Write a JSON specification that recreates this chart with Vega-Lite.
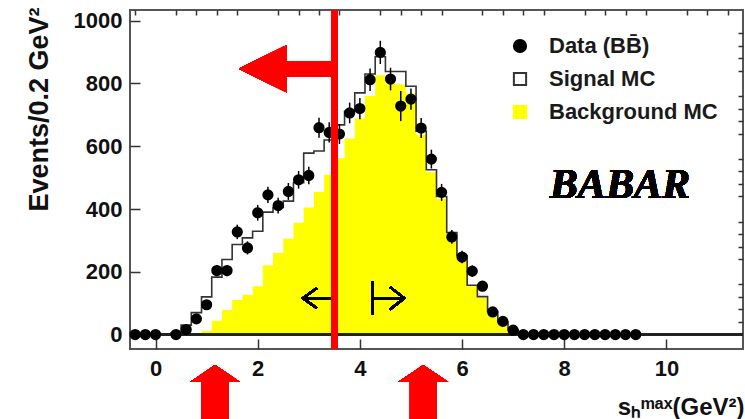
{
  "$schema": "https://vega.github.io/schema/vega-lite/v6.json",
  "width": 613,
  "height": 339,
  "autosize": {"type": "none"},
  "padding": {"left": 130, "top": 10, "right": 2, "bottom": 70},
  "background": "white",
  "config": {
    "view": {"stroke": "#555555", "strokeWidth": 2},
    "font": "Liberation Sans"
  },
  "resolve": {"axis": {"x": "independent", "y": "independent"}},
  "data": {
    "values": [
      {"c": -0.4, "sig": 0, "bkg": 0, "data": 0},
      {"c": -0.2, "sig": 0, "bkg": 0, "data": 0},
      {"c": 0.0, "sig": 0, "bkg": 0, "data": 0},
      {"c": 0.2, "sig": 0, "bkg": 0},
      {"c": 0.4, "sig": 5, "bkg": 0, "data": 0},
      {"c": 0.6, "sig": 30, "bkg": 0, "data": 16, "err": 5},
      {"c": 0.8, "sig": 70, "bkg": 0, "data": 50, "err": 9},
      {"c": 1.0, "sig": 120, "bkg": 12, "data": 95, "err": 12},
      {"c": 1.2, "sig": 183, "bkg": 44, "data": 204, "err": 18},
      {"c": 1.4, "sig": 239, "bkg": 78, "data": 204, "err": 18},
      {"c": 1.6, "sig": 287, "bkg": 110, "data": 327, "err": 23},
      {"c": 1.8, "sig": 308, "bkg": 126, "data": 276, "err": 21},
      {"c": 2.0, "sig": 329, "bkg": 154, "data": 388, "err": 25},
      {"c": 2.2, "sig": 390, "bkg": 221, "data": 445, "err": 26},
      {"c": 2.4, "sig": 405, "bkg": 260, "data": 411, "err": 25},
      {"c": 2.6, "sig": 425, "bkg": 305, "data": 456, "err": 27},
      {"c": 2.8, "sig": 484, "bkg": 356, "data": 493, "err": 28},
      {"c": 3.0, "sig": 578, "bkg": 405, "data": 507, "err": 28},
      {"c": 3.2, "sig": 585, "bkg": 454, "data": 659, "err": 32},
      {"c": 3.4, "sig": 620, "bkg": 509, "data": 644, "err": 32},
      {"c": 3.6, "sig": 668, "bkg": 562, "data": 639, "err": 32},
      {"c": 3.8, "sig": 711, "bkg": 625, "data": 706, "err": 33},
      {"c": 4.0, "sig": 770, "bkg": 688, "data": 720, "err": 34},
      {"c": 4.2, "sig": 830, "bkg": 760, "data": 812, "err": 36},
      {"c": 4.4, "sig": 885, "bkg": 826, "data": 899, "err": 37},
      {"c": 4.6, "sig": 838, "bkg": 800, "data": 814, "err": 36},
      {"c": 4.8, "sig": 838, "bkg": 797, "data": 728, "err": 48},
      {"c": 5.0, "sig": 791, "bkg": 768, "data": 750, "err": 34},
      {"c": 5.2, "sig": 648, "bkg": 636, "data": 658, "err": 32},
      {"c": 5.4, "sig": 525, "bkg": 517, "data": 559, "err": 30},
      {"c": 5.6, "sig": 440, "bkg": 432, "data": 453, "err": 27},
      {"c": 5.8, "sig": 325, "bkg": 318, "data": 311, "err": 22},
      {"c": 6.0, "sig": 252, "bkg": 249, "data": 247, "err": 20},
      {"c": 6.2, "sig": 157, "bkg": 154, "data": 202, "err": 18},
      {"c": 6.4, "sig": 121, "bkg": 117, "data": 154, "err": 16},
      {"c": 6.6, "sig": 74, "bkg": 72, "data": 72, "err": 11},
      {"c": 6.8, "sig": 40, "bkg": 38, "data": 42, "err": 8},
      {"c": 7.0, "sig": 15, "bkg": 14, "data": 14, "err": 5},
      {"c": 7.2, "sig": 0, "bkg": 0, "data": 0},
      {"c": 7.4, "sig": 0, "bkg": 0, "data": 0},
      {"c": 7.6, "sig": 0, "bkg": 0, "data": 0},
      {"c": 7.8, "sig": 0, "bkg": 0, "data": 0},
      {"c": 8.0, "sig": 0, "bkg": 0, "data": 0},
      {"c": 8.2, "sig": 0, "bkg": 0, "data": 0},
      {"c": 8.4, "sig": 0, "bkg": 0, "data": 0},
      {"c": 8.6, "sig": 0, "bkg": 0, "data": 0},
      {"c": 8.8, "sig": 0, "bkg": 0, "data": 0},
      {"c": 9.0, "sig": 0, "bkg": 0, "data": 0},
      {"c": 9.2, "sig": 0, "bkg": 0, "data": 0},
      {"c": 9.4, "sig": 0, "bkg": 0, "data": 0},
      {"c": 9.6, "sig": 0, "bkg": 0},
      {"c": 9.8, "sig": 0, "bkg": 0},
      {"c": 10.0, "sig": 0, "bkg": 0},
      {"c": 10.2, "sig": 0, "bkg": 0},
      {"c": 10.4, "sig": 0, "bkg": 0},
      {"c": 10.6, "sig": 0, "bkg": 0},
      {"c": 10.8, "sig": 0, "bkg": 0},
      {"c": 11.0, "sig": 0, "bkg": 0},
      {"c": 11.2, "sig": 0, "bkg": 0},
      {"c": 11.4, "sig": 0, "bkg": 0}
    ]
  },
  "layer": [
    {
      "mark": {"type": "area", "interpolate": "step"},
      "encoding": {
        "x": {
          "field": "c", "type": "quantitative",
          "scale": {"domain": [-0.5, 11.5], "nice": false, "zero": false},
          "axis": {
            "values": [0, 2, 4, 6, 8, 10],
            "ticks": false,
            "grid": true, "gridColor": "#333333", "gridWidth": 1.5, "gridOpacity": 1,
            "gridDash": [10, 2000], "gridDashOffset": 1681,
            "labelPadding": 26,
            "labelBaseline": "alphabetic",
            "labelFont": "Liberation Sans", "labelFontSize": 22, "labelFontWeight": "bold", "labelColor": "#111111",
            "labelFlush": false, "labelOverlap": false,
            "domain": false,
            "title": "sₕᵐᵃˣ(GeV²)",
            "titleFont": "Liberation Sans", "titleFontSize": 24, "titleFontWeight": "bold", "titleColor": "#111111",
            "titleX": 614, "titleY": 65, "titleAlign": "right", "titleBaseline": "alphabetic", "titleAngle": 0
          }
        },
        "y": {
          "field": "bkg", "type": "quantitative",
          "scale": {"domain": [-46, 1034], "nice": false, "zero": false},
          "axis": {
            "values": [0, 200, 400, 600, 800, 1000],
            "ticks": false,
            "grid": true, "gridColor": "#333333", "gridWidth": 1.5, "gridOpacity": 1,
            "gridDash": [10, 2000],
            "format": "d",
            "labelPadding": 8,
            "labelFont": "Liberation Sans", "labelFontSize": 22, "labelFontWeight": "bold", "labelColor": "#111111",
            "labelFlush": false, "labelOverlap": false,
            "domain": false,
            "title": "Events/0.2 GeV²",
            "titleFont": "Liberation Sans", "titleFontSize": 27, "titleFontWeight": "bold", "titleColor": "#111111",
            "titleX": -83, "titleY": -3, "titleAlign": "right", "titleBaseline": "alphabetic", "titleAngle": -90
          }
        },
        "fill": {
          "datum": "Background MC",
          "scale": {"domain": ["Data (BB\u0304)", "Signal MC", "Background MC"], "range": ["#000000", "#ffffff", "#ffff00"]},
          "legend": {"title": null, "orient": "none", "legendX": 379, "legendY": 25, "labelFont": "Liberation Sans", "labelFontSize": 22, "labelFontWeight": "bold", "labelColor": "#1a1a1a", "symbolSize": 150, "symbolStrokeWidth": 2, "rowPadding": 11, "labelOffset": 18, "padding": 0, "symbolOpacity": 1, "labelLimit": 300}
        }
      }
    },
    {
      "mark": {"type": "line", "interpolate": "step", "strokeWidth": 1.6},
      "encoding": {
        "x": {
          "field": "c", "type": "quantitative",
          "axis": {
            "values": [-0.4, 0.4, 0.8, 1.2, 1.6, 2.4, 2.8, 3.2, 3.6, 4.4, 4.8, 5.2, 5.6, 6.4, 6.8, 7.2, 7.6, 8.4, 8.8, 9.2, 9.6, 10.4, 10.8, 11.2],
            "ticks": false, "labels": false, "title": null, "domain": false,
            "grid": true, "gridColor": "#333333", "gridWidth": 1.5, "gridOpacity": 1,
            "gridDash": [5, 2000], "gridDashOffset": 1671
          }
        },
        "y": {
          "field": "sig", "type": "quantitative",
          "axis": {
            "values": [40, 80, 120, 160, 240, 280, 320, 360, 440, 480, 520, 560, 640, 680, 720, 760, 840, 880, 920, 960],
            "ticks": false, "labels": false, "title": null, "domain": false,
            "grid": true, "gridColor": "#333333", "gridWidth": 1.5, "gridOpacity": 1,
            "gridDash": [5, 2000]
          }
        },
        "stroke": {
          "datum": "Signal MC",
          "scale": {"domain": ["Data (BB\u0304)", "Signal MC", "Background MC"], "range": ["#000000", "#333333", "#ffff00"]},
          "legend": {"title": null, "orient": "none", "legendX": 379, "legendY": 25, "labelFont": "Liberation Sans", "labelFontSize": 22, "labelFontWeight": "bold", "labelColor": "#1a1a1a", "symbolSize": 150, "symbolStrokeWidth": 2, "rowPadding": 11, "labelOffset": 18, "padding": 0, "symbolOpacity": 1, "labelLimit": 300}
        }
      }
    },
    {
      "mark": {"type": "rule", "color": "#222222", "strokeWidth": 2},
      "encoding": {"y": {"datum": 0, "axis": null}}
    },
    {
      "transform": [{"filter": "datum.err > 0"}],
      "mark": {"type": "errorbar", "ticks": false, "color": "#000000", "thickness": 1.5},
      "encoding": {
        "x": {"field": "c", "type": "quantitative", "axis": null},
        "y": {"field": "data", "type": "quantitative", "axis": null},
        "yError": {"field": "err"}
      }
    },
    {
      "transform": [{"filter": "isValid(datum.data)"}],
      "mark": {"type": "point", "filled": true, "size": 85, "opacity": 1},
      "encoding": {
        "x": {"field": "c", "type": "quantitative", "axis": null},
        "y": {"field": "data", "type": "quantitative", "axis": null},
        "fill": {"datum": "Data (BB\u0304)", "legend": {"title": null, "orient": "none", "legendX": 379, "legendY": 25, "labelFont": "Liberation Sans", "labelFontSize": 22, "labelFontWeight": "bold", "labelColor": "#1a1a1a", "symbolSize": 150, "symbolStrokeWidth": 2, "rowPadding": 11, "labelOffset": 18, "padding": 0, "symbolOpacity": 1, "labelLimit": 300}},
        "stroke": {"datum": "Data (BB\u0304)", "legend": {"title": null, "orient": "none", "legendX": 379, "legendY": 25, "labelFont": "Liberation Sans", "labelFontSize": 22, "labelFontWeight": "bold", "labelColor": "#1a1a1a", "symbolSize": 150, "symbolStrokeWidth": 2, "rowPadding": 11, "labelOffset": 18, "padding": 0, "symbolOpacity": 1, "labelLimit": 300}},
        "shape": {
          "datum": "Data (BB\u0304)",
          "scale": {"domain": ["Data (BB\u0304)", "Signal MC", "Background MC"], "range": ["circle", "square", "square"]},
          "legend": {"title": null, "orient": "none", "legendX": 379, "legendY": 25, "labelFont": "Liberation Sans", "labelFontSize": 22, "labelFontWeight": "bold", "labelColor": "#1a1a1a", "symbolSize": 150, "symbolStrokeWidth": 2, "rowPadding": 11, "labelOffset": 18, "padding": 0, "symbolOpacity": 1, "labelLimit": 300}
        }
      }
    },
    {
      "mark": {"type": "point", "shape": "M -0.03 -0.69 L -1 0 L -0.03 0.69 M -1 0 L 1 0", "size": 841, "filled": false, "color": "#000000", "strokeWidth": 2, "opacity": 1},
      "encoding": {"x": {"datum": 3.166, "axis": null}, "y": {"datum": 116, "axis": null}}
    },
    {
      "mark": {"type": "point", "shape": "M -1 -1.04 L -1 1.04 M -1 0 L 1 0 M 0.1 -0.7 L 1 0 L 0.1 0.7", "size": 1024, "filled": false, "color": "#000000", "strokeWidth": 2, "opacity": 1},
      "encoding": {"x": {"datum": 4.558, "axis": null}, "y": {"datum": 116, "axis": null}}
    },
    {
      "mark": {"type": "rule", "color": "#ff0000", "strokeWidth": 5.5},
      "encoding": {"x": {"datum": 3.5, "axis": null}}
    },
    {
      "mark": {"type": "point", "shape": "M -1 0 L 0 -0.495 L 0 -0.158 L 1 -0.158 L 1 0.158 L 0 0.158 L 0 0.495 Z", "size": 9025, "filled": true, "color": "#ff0000", "strokeWidth": 0, "opacity": 1},
      "encoding": {"x": {"datum": 2.56, "axis": null}, "y": {"datum": 847, "axis": null}}
    },
    {
      "mark": {"type": "point", "shape": "M 0 -1 L 1 -0.32 L 0.53 -0.32 L 0.53 1.4 L -0.53 1.4 L -0.53 -0.32 L -1 -0.32 Z", "size": 2500, "filled": true, "color": "#ff0000", "strokeWidth": 0, "opacity": 1},
      "encoding": {"x": {"datum": 1.165, "axis": null}, "y": {"datum": -176.6, "axis": null}}
    },
    {
      "mark": {"type": "point", "shape": "M 0 -1 L 1 -0.32 L 0.53 -0.32 L 0.53 1.4 L -0.53 1.4 L -0.53 -0.32 L -1 -0.32 Z", "size": 2500, "filled": true, "color": "#ff0000", "strokeWidth": 0, "opacity": 1},
      "encoding": {"x": {"datum": 5.24, "axis": null}, "y": {"datum": -176.6, "axis": null}}
    },
    {
      "mark": {"type": "text", "text": "BABAR", "font": "Liberation Serif", "fontStyle": "italic", "fontWeight": "bold", "fontSize": 42, "align": "center", "baseline": "alphabetic", "color": "#000000"},
      "encoding": {"x": {"datum": 9.09, "axis": null}, "y": {"datum": 434, "axis": null}}
    }
  ]
}
